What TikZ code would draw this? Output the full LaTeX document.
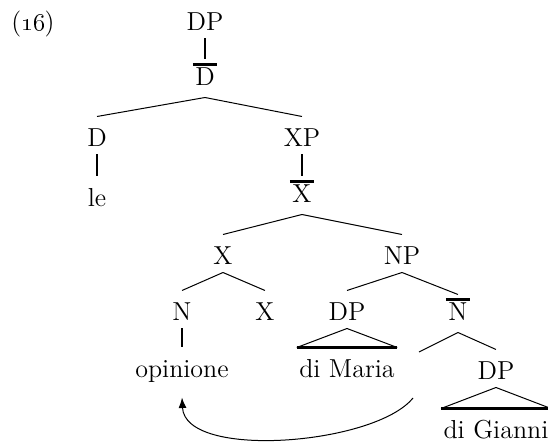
\documentclass[tikz,border=0pt]{standalone}
\usetikzlibrary{arrows.meta}

\begin{document}
\begin{tikzpicture}[x=0.5pt,y=-0.5pt,font=\fontsize{13}{15}\selectfont,>=Latex,line width=0.5pt,
  cat/.style={anchor=base,inner xsep=1pt,inner ysep=3.5pt,text height=11.5pt,text depth=0pt},
  barcat/.style={cat,text height=9.5pt,text depth=2pt},
  bar/.style={line width=1.2pt},
  unary/.style={line width=0.8pt}]
\useasboundingbox (0,0) rectangle (548,443);
\node[anchor=base] (ex) at (33,31) {(\oldstylenums{16})};
% top: DP over D-bar
\node[cat] (dp) at (205,31) {DP};
\node[barcat] (dbar) at (205,86) {D};
\draw[bar] ([yshift=-2.5pt]dbar.north west) -- ([yshift=-2.5pt]dbar.north east);
\draw[unary] (dp.south) -- (dbar.north);
\node[cat] (d) at (97,147) {D};
\node[cat] (le) at (97,207) {le};
\node[cat] (xp) at (302,147) {XP};
\draw (dbar.south) -- (d.north); \draw (dbar.south) -- (xp.north);
\draw[unary] (d.south) -- (le.north);
% X-bar
\node[barcat] (xbar) at (302,203) {X};
\draw[bar] ([yshift=-2.5pt]xbar.north west) -- ([yshift=-2.5pt]xbar.north east);
\draw[unary] (xp.south) -- (xbar.north);
\node[cat] (x) at (223,265) {X};
\node[cat] (np) at (402,265) {NP};
\draw (xbar.south) -- (x.north); \draw (xbar.south) -- (np.north);
\node[cat] (n) at (182,321) {N};
\node[cat] (xh) at (265,321) {X};
\draw (x.south) -- (n.north); \draw (x.south) -- (xh.north);
\node[cat] (op) at (182,378) {opinione};
\draw[unary] (n.south) -- (op.north);
% NP
\node[cat] (dpa) at (347,321) {DP};
\node[barcat] (nbar) at (458,321) {N};
\draw[bar] ([yshift=-2.5pt]nbar.north west) -- ([yshift=-2.5pt]nbar.north east);
\draw (np.south) -- (dpa.north); \draw (np.south) -- (nbar.north);
\node[cat] (maria) at (347,378) {di Maria};
\draw (dpa.south) -- (maria.north west) (dpa.south) -- (maria.north east);
\draw[bar] (maria.north west) -- (maria.north east);
\coordinate (tr) at (419,352);
\node[cat] (dpb) at (496,380) {DP};
\draw (nbar.south) -- (tr); \draw (nbar.south) -- (dpb.north);
\node[cat] (gianni) at (496,439) {di Gianni};
\draw (dpb.south) -- (gianni.north west) (dpb.south) -- (gianni.north east);
\draw[bar] (gianni.north west) -- (gianni.north east);
% movement
\coordinate (mv) at (413,398);
\draw[->] (mv) .. controls (375,445) and (185,460) .. ([yshift=-6pt]op.south);
\end{tikzpicture}
\end{document}
